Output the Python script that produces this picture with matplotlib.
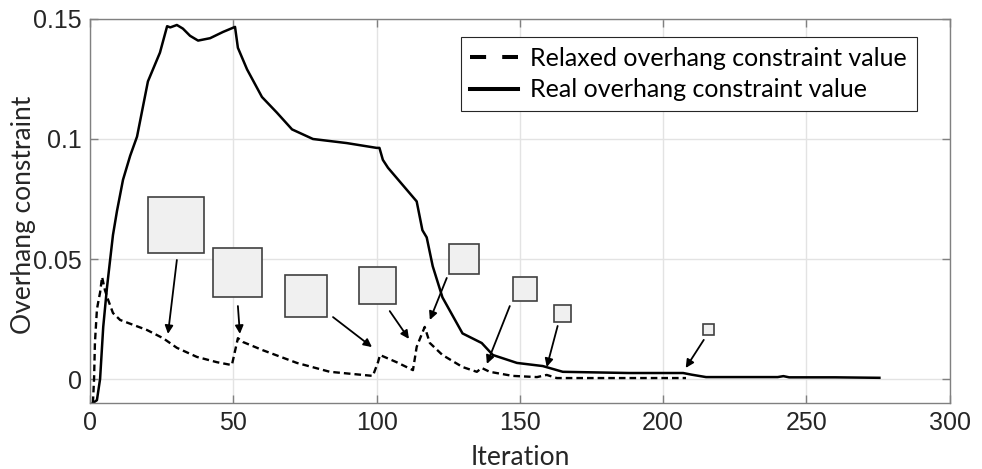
import numpy as np
import matplotlib.pyplot as plt
from matplotlib.lines import Line2D

# real (solid) overhang constraint value
iter_real = [1.0, 2.4, 3.5, 4.6, 5.9, 7.0, 8.0, 9.4, 11.5, 14.0, 16.4, 20.2, 24.4, 26.9, 28.0,
             30.3, 32.4, 34.9, 37.7, 41.9, 46.4, 50.6, 51.6, 54.8, 60.0, 65.2, 70.5, 77.8,
             89.6, 100.0, 101.0, 102.2, 104.0, 114.0, 116.0, 117.5, 119.6, 123.0, 130.0,
             136.7, 140.6, 149.0, 158.0, 165.0, 188.0, 207.0, 210.0, 215.0, 240.0, 242.0,
             244.0, 260.0, 275.5]
val_real = [-0.0100, -0.0088, 0.0000, 0.0217, 0.0380, 0.0496, 0.0600, 0.0700, 0.0830, 0.0930,
            0.1010, 0.1240, 0.1360, 0.1470, 0.1465, 0.1475, 0.1460, 0.1430, 0.1410, 0.1420,
            0.1446, 0.1467, 0.1380, 0.1290, 0.1175, 0.1110, 0.1040, 0.1000, 0.0983, 0.0963,
            0.0963, 0.0913, 0.0880, 0.0740, 0.0620, 0.0590, 0.0470, 0.0340, 0.0190, 0.0150,
            0.0100, 0.0067, 0.0054, 0.0030, 0.0025, 0.0025, 0.0018, 0.0008, 0.0008, 0.0012,
            0.0007, 0.0007, 0.0005]

# relaxed (dashed) overhang constraint value
iter_relax = [1.0, 1.4, 1.7, 2.4, 3.0, 3.5, 4.2, 5.2, 6.3, 8.0, 10.5, 19.9, 25.5, 30.3, 37.3,
              44.3, 49.5, 51.6, 53.4, 60.3, 72.2, 83.7, 98.7, 100.5, 101.2, 107.0, 112.7,
              114.0, 116.8, 118.6, 123.0, 130.0, 135.0, 136.7, 139.5, 147.5, 156.0, 159.4,
              162.9, 188.0, 208.0]
val_relax = [-0.0100, 0.0000, 0.0150, 0.0290, 0.0330, 0.0360, 0.0425, 0.0370, 0.0330, 0.0275,
             0.0246, 0.0204, 0.0170, 0.0130, 0.0092, 0.0070, 0.0058, 0.0170, 0.0154, 0.0120,
             0.0067, 0.0030, 0.0013, 0.0070, 0.0100, 0.0070, 0.0037, 0.0134, 0.0217, 0.0150,
             0.0100, 0.0050, 0.0030, 0.0046, 0.0030, 0.0013, 0.0008, 0.0017, 0.0004, 0.0004,
             0.0004]

# design snapshots: square centre (iteration, value), square side in pixels
snap_x = [30.0, 51.4, 75.2, 100.3, 130.4, 151.7, 164.8, 215.7]
snap_y = [0.0642, 0.0446, 0.0344, 0.0392, 0.0500, 0.0373, 0.0273, 0.0208]
snap_px = [56, 49, 43, 37, 30, 24, 17, 11]

# arrows: tail -> head
arrow_tail = [(30.3, 0.0496), (51.6, 0.0304), (84.8, 0.0258), (104.6, 0.0283),
              (124.5, 0.0421), (146.5, 0.0304), (163.2, 0.0221), (214.2, 0.0163)]
arrow_head = [(27.2, 0.0188), (52.3, 0.0188), (98.4, 0.0133), (111.3, 0.0167),
              (118.6, 0.0246), (138.5, 0.0063), (159.4, 0.0050), (207.9, 0.0046)]

legend_labels = ['Relaxed overhang constraint value', 'Real overhang constraint value']

plt.rcParams['font.family'] = ['Liberation Sans', 'DejaVu Sans']
label_font = ['Lato', 'DejaVu Sans']

fig = plt.figure(figsize=(9.82, 4.69), dpi=100)
ax = fig.add_axes([0.0917, 0.1407, 0.8753, 0.8188])

ax.plot(iter_relax, val_relax, color='k', lw=1.7, ls=(0, (2.8, 1.7)))
ax.plot(iter_real, val_real, color='k', lw=1.8)

for t, h in zip(arrow_tail, arrow_head):
    ax.annotate('', xy=h, xytext=t,
                arrowprops=dict(arrowstyle='-|>', color='k', lw=1.3,
                                mutation_scale=12, shrinkA=0, shrinkB=0))

for x, y, s in zip(snap_x, snap_y, snap_px):
    ax.plot(x, y, marker='s', ms=s * 0.72, mfc='#f0f0f0', mec='#404040', mew=1.2,
            ls='none', zorder=5)

ax.set_xlim(0, 300)
ax.set_ylim(-0.01, 0.15)
ax.set_xticks(np.arange(0, 301, 50))
ax.set_yticks([0, 0.05, 0.1, 0.15])
ax.set_yticklabels(['0', '0.05', '0.1', '0.15'])
ax.grid(True, color='#e3e3e3', lw=1.0)
ax.set_axisbelow(True)
for sp in ax.spines.values():
    sp.set_color('#808080')
    sp.set_linewidth(1.0)
ax.tick_params(direction='in', length=6, width=1.0, color='#808080', labelcolor='#262626',
               labelsize=18, top=True, right=True, pad=6)

ax.set_xlabel('Iteration', fontsize=19, family=label_font, color='#262626')
ax.set_ylabel('Overhang constraint', fontsize=19, family=label_font, color='#262626')
ax.xaxis.set_label_coords(0.5, -0.11)
ax.yaxis.set_label_coords(-0.063, 0.49)

handles = [Line2D([], [], color='k', lw=2.9, ls=(0, (4, 4))),
           Line2D([], [], color='k', lw=2.9)]
leg = ax.legend(handles, legend_labels, loc='upper right', bbox_to_anchor=(0.9616, 0.953),
                borderaxespad=0, fancybox=False, framealpha=1, edgecolor='#262626',
                handlelength=1.9, handletextpad=0.5, borderpad=0.38, labelspacing=0.35,
                prop={'family': label_font, 'size': 18})
leg.get_frame().set_linewidth(0.8)

fig.savefig('out.png', dpi=100)
